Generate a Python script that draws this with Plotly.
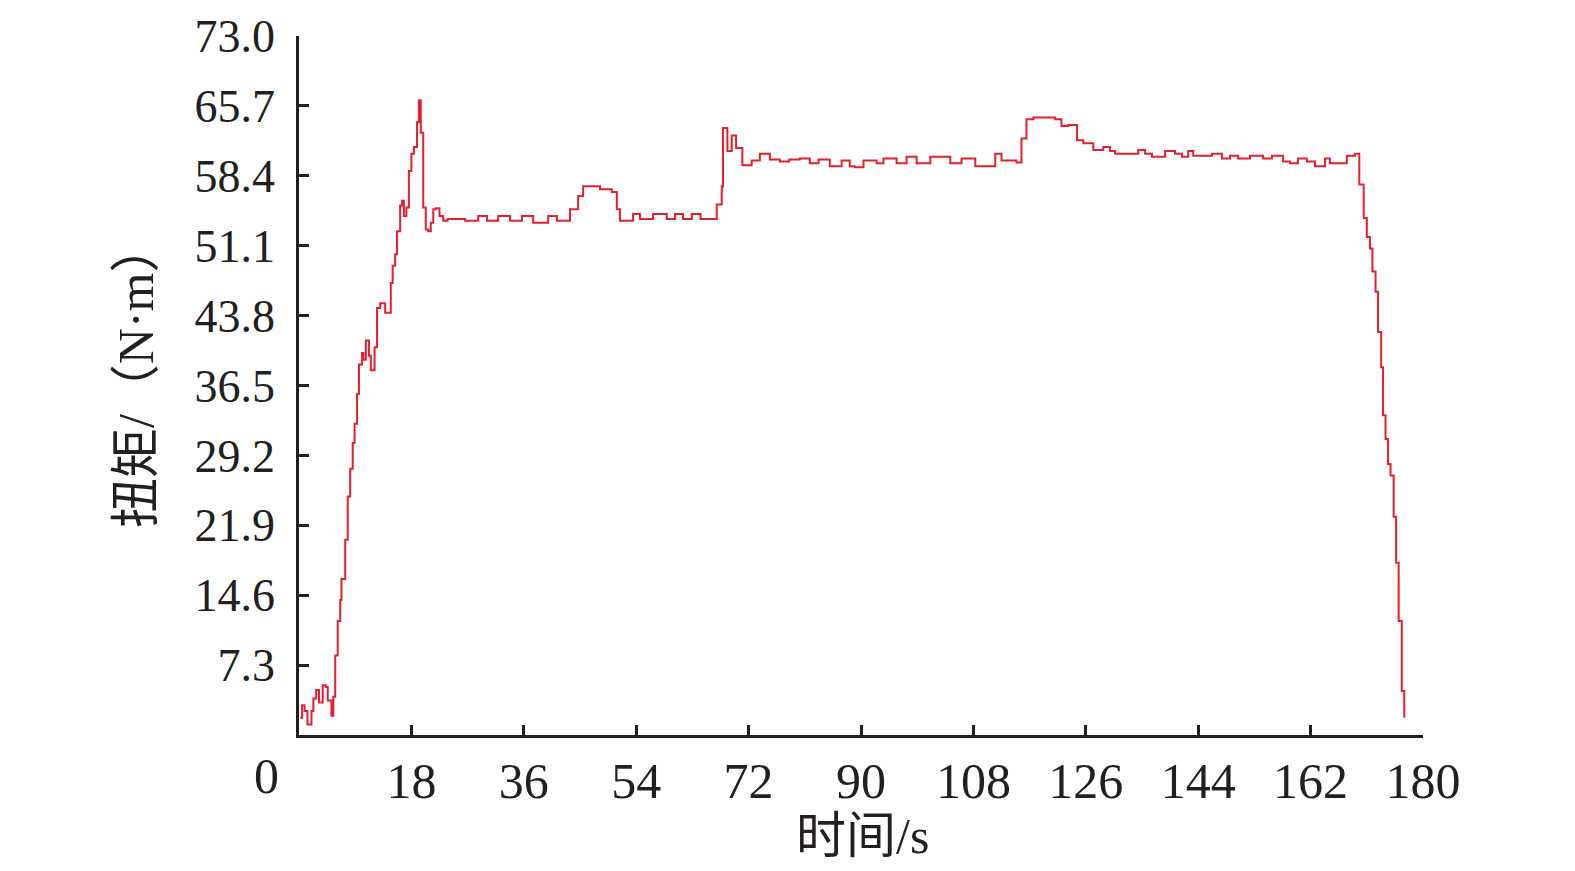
import plotly.graph_objects as go

# time (s) and torque (N·m)
time_s = [0.2, 0.5, 0.9, 1.35, 2.0, 2.3, 2.75, 3.2, 3.8, 4.3, 4.6, 5.2, 5.5, 5.8, 6.2, 6.6, 6.8,
          7.4, 7.8, 8.2, 8.6, 8.9, 9.3, 9.6, 10.1, 10.3, 10.7, 11.2, 11.5, 12.1, 12.5, 13.0, 13.8,
          14.7, 15.0, 15.4, 15.7, 16.2, 16.5, 16.8, 17.2, 17.6, 18.0, 18.4, 18.9, 19.2, 19.5, 19.9,
          20.3, 20.7, 21.1, 21.5, 21.9, 22.5, 23.1, 23.8, 24.2,
          26.6, 28.7, 30.1, 31.9, 33.8, 35.7, 37.5, 39.9, 41.3, 43.4, 44.7, 45.5, 48.2, 50.1, 50.9,
          51.4, 53.5, 54.6, 56.7, 58.9, 60.2, 61.5, 62.9, 64.3, 65.3, 66.9, 67.7, 67.9, 68.6, 69.3,
          70.0, 71.0, 72.5, 73.8, 75.4, 77.0,
          78.5, 80.2, 81.8, 83.2, 85.0, 86.9, 88.2, 89.0, 90.4, 92.5, 93.6, 95.7, 97.3, 98.9, 101.1,
          102.4, 104.3, 106.1, 108.3, 111.5, 112.5, 114.9, 115.7, 116.5, 117.6, 121.1, 122.1, 123.2,
          124.6, 125.6, 127.2, 128.8, 129.9, 130.7, 133.6, 134.4, 135.5, 136.6, 138.7, 140.3, 141.4,
          142.4, 143.2, 146.2, 147.8, 149.1, 150.4, 152.3, 154.4, 155.8, 157.6, 158.7, 160.0, 161.4,
          162.7, 164.3, 165.1, 167.8, 169.1,
          169.8, 170.5, 171.0, 171.5, 171.9, 172.4, 172.8, 173.3, 173.6, 174.0, 174.4, 174.8, 175.3,
          175.7, 176.1, 176.6, 177.0]
torque = [1.8, 3.1, 2.5, 1.1, 2.5, 3.8, 4.7, 3.4, 5.2, 5.0, 3.6, 2.0, 4.0, 8.3, 11.9, 14.1, 16.3,
          20.4, 24.9, 27.8, 30.5, 32.5, 35.6, 38.7, 39.9, 39.2, 41.2, 39.6, 38.1, 40.5, 44.6, 45.1, 44.1,
          47.2, 49.0, 50.2, 52.6, 55.3, 55.8, 54.2, 55.1, 58.9, 60.7, 61.4, 64.0, 66.3, 62.9, 55.1,
          52.8, 52.6, 53.5, 54.9, 55.0, 54.2, 53.7, 53.9, 53.9,
          53.7, 54.2, 53.7, 54.2, 53.7, 54.2, 53.5, 54.2, 53.7, 54.9, 56.3, 57.3, 57.0, 56.7, 54.9,
          53.7, 54.4, 53.9, 54.4, 53.9, 54.4, 53.9, 54.4, 53.9, 53.9, 55.4, 57.3, 63.4, 61.0, 62.6,
          61.3, 59.5, 60.0, 60.7, 60.1, 59.9,
          60.1, 60.2, 59.7, 60.1, 59.4, 60.0, 59.4, 59.3, 60.0, 59.7, 60.2, 59.7, 60.4, 59.7, 60.4,
          60.4, 59.7, 60.2, 59.4, 60.7, 60.0, 59.8, 62.3, 64.3, 64.5, 64.3, 63.6, 63.7,
          62.1, 61.8, 61.1, 61.4, 61.0, 60.7, 60.7, 61.1, 60.7, 60.4, 61.0, 60.7, 60.4,
          61.0, 60.5, 60.7, 60.2, 60.5, 60.2, 60.5, 60.2, 60.5, 59.9, 59.7, 60.2, 59.9,
          59.4, 60.2, 59.7, 60.5, 60.7,
          57.5, 54.0, 52.0, 50.8, 48.4, 46.3, 42.1, 38.4, 33.4, 30.9, 28.3, 27.1, 22.8,
          18.0, 11.9, 4.6, 1.8]

x_ticks = [18, 36, 54, 72, 90, 108, 126, 144, 162, 180]
y_ticks = [7.3, 14.6, 21.9, 29.2, 36.5, 43.8, 51.1, 58.4, 65.7, 73.0]
y_tick_text = ["7.3", "14.6", "21.9", "29.2", "36.5", "43.8", "51.1", "58.4", "65.7", "73.0"]

FONT = "Liberation Serif, Times New Roman, Noto Sans CJK SC"
TXT = "#231f20"

fig = go.Figure()
fig.add_trace(go.Scatter(x=time_s, y=torque, mode="lines", line_shape="hv",
                         line=dict(color="#e3202c", width=2), showlegend=False))

fig.update_layout(
    width=1575, height=871,
    margin=dict(l=291, r=160, t=28, b=144),
    paper_bgcolor="white", plot_bgcolor="white",
    font=dict(family=FONT, size=50, color=TXT),
    xaxis=dict(range=[0, 180], tickvals=x_ticks, ticktext=[str(v) for v in x_ticks],
               automargin=False, ticklabeloverflow="allow",
               showgrid=False, zeroline=False, showline=True, linecolor=TXT, linewidth=2.5,
               ticks="inside", ticklen=10, tickwidth=2.5, tickcolor=TXT,
               ticklabelstandoff=0, tickfont=dict(family=FONT, size=50, color=TXT)),
    yaxis=dict(range=[0, 73], tickvals=y_ticks, ticktext=y_tick_text,
               automargin=False, ticklabeloverflow="allow",
               showgrid=False, zeroline=False, showline=True, linecolor=TXT, linewidth=2.5,
               ticks="inside", ticklen=10, tickwidth=2.5, tickcolor=TXT,
               ticklabelstandoff=12, tickfont=dict(family=FONT, size=46, color=TXT)),
    annotations=[
        dict(text="0", xref="paper", yref="paper", x=-0.029, y=-0.058,
             xanchor="center", yanchor="middle", showarrow=False,
             font=dict(family=FONT, size=50, color=TXT)),
        dict(text="时间/s", xref="paper", yref="paper", x=0.501, y=-0.144,
             xanchor="center", yanchor="middle", showarrow=False,
             font=dict(family=FONT, size=50, color=TXT)),
        dict(text="扭矩/（N·m）", xref="paper", yref="paper", x=-0.145, y=0.515,
             xanchor="center", yanchor="middle", showarrow=False, textangle=-90,
             font=dict(family=FONT, size=50, color=TXT)),
    ],
)

fig.write_html("out.html")
